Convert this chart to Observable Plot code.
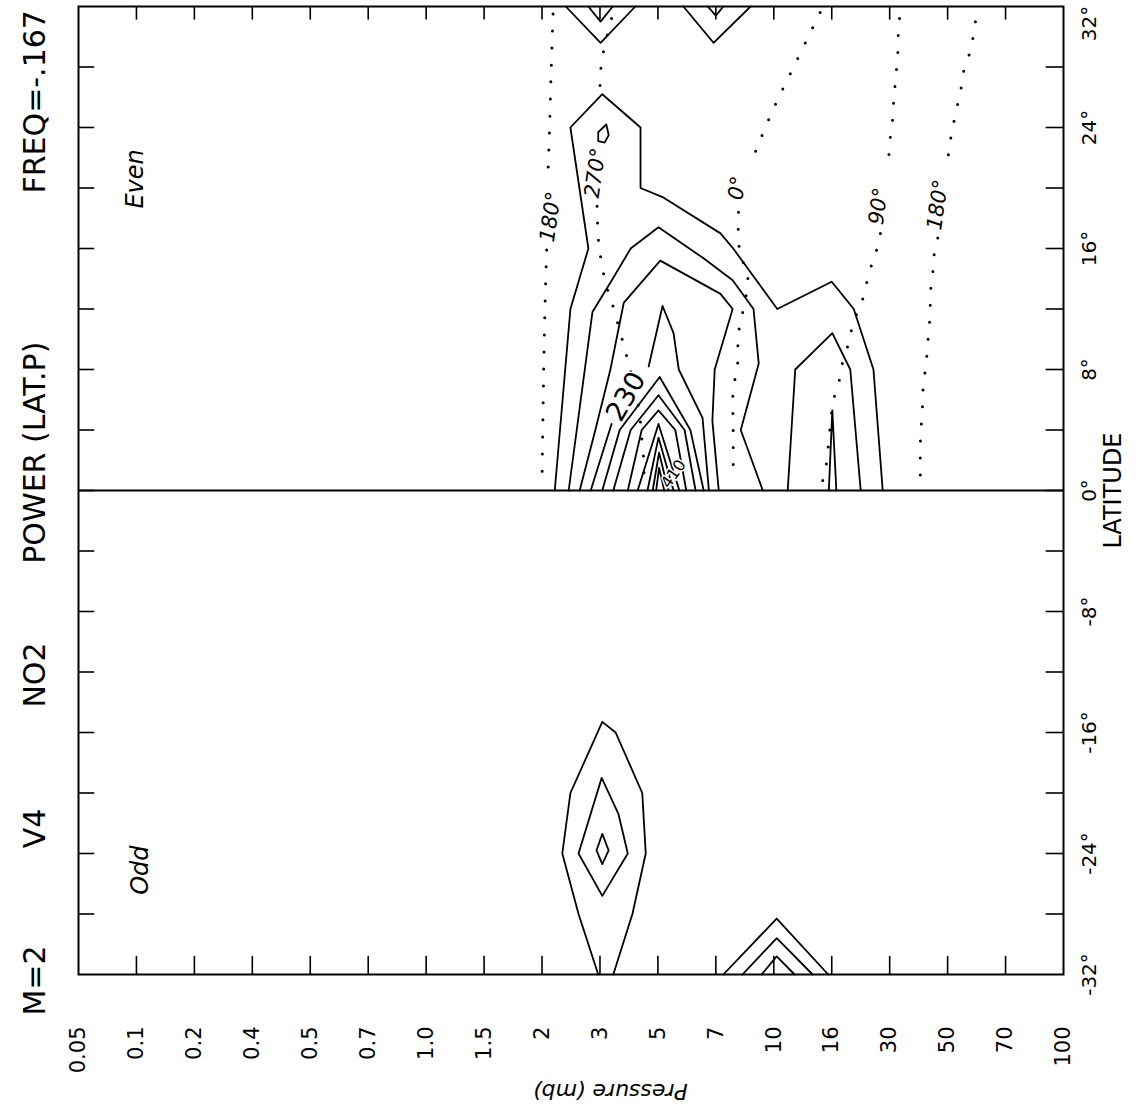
<!DOCTYPE html>
<html><head><meta charset="utf-8">
<script src="https://cdn.jsdelivr.net/npm/d3@7"></script>
<script src="https://cdn.jsdelivr.net/npm/@observablehq/plot@0.6"></script>
<style>html,body{margin:0;padding:0;background:#fff;}</style>
</head><body><div id="chart"></div>
<script>
// Pressure levels (mb), evenly spaced along the x axis (index 0..17)
const pressureLabels = ["0.05","0.1","0.2","0.4","0.5","0.7","1.0","1.5","2","3","5","7","10","16","30","50","70","100"];
const pressureIndex = [0,1,2,3,4,5,6,7,8,9,10,11,12,13,14,15,16,17];
const latMinorTicks = [-28,-24,-20,-16,-12,-8,-4,0,4,8,12,16,20,24,28];
const latLabels = [-32,-24,-16,-8,0,8,16,24];
const latTopLabel = [32];

// Power contours, vertices as [pressure index, latitude]
const evenContours = [
  {id:"c1", pts:[[8.22,0],[8.49,12],[8.8,16],[8.49,24],[9.04,26.2],[9.7,24],[9.7,20],[10.08,19.4],[11.08,17],[11.3,16],[12.06,12],[13.0,13.8],[13.38,12],[13.72,8],[13.88,0]]},
  {id:"c2", pts:[[8.46,0],[8.87,11.8],[9.22,14],[9.53,16],[10.01,17.4],[10.77,15.4],[11.29,13.9],[11.65,12],[11.74,8.4],[11.43,4],[11.81,0]]},
  {id:"c3", pts:[[8.65,0],[8.92,4],[9.18,8],[9.41,12.4],[10.04,15.2],[11.08,13],[11.29,12],[10.98,8],[10.94,4.6],[11.05,0]]},
  {id:"c4a", pts:[[9.84,8.2],[10.08,12.2],[10.27,10.4],[10.36,8],[10.77,4.8],[10.88,0]]},
  {id:"c4b", pts:[[9.2,4.4],[8.84,0]]},
  {id:"c5", pts:[[9.04,0],[9.34,4],[10.03,7.5],[10.56,4],[10.79,0]]},
  {id:"c6", pts:[[9.23,0],[9.53,4],[10.01,6.3],[10.46,4],[10.65,0]]},
  {id:"c7", pts:[[9.48,0],[9.72,4],[10.01,5.3],[10.3,4],[10.49,0]]},
  {id:"c8", pts:[[9.65,0],[10.01,4.4],[10.37,0]]},
  {id:"c9", pts:[[9.82,0],[10.01,3.5],[10.27,0]]},
  {id:"c10", pts:[[9.91,0],[10.02,2.5],[10.18,0]]},
  {id:"c11", pts:[[9.97,0],[10.02,1.5],[10.11,0]]},
  {id:"c12", pts:[[12.24,0],[12.37,8],[13.01,10.4],[13.32,8],[13.5,0]]},
  {id:"c13", pts:[[12.95,0],[13.01,5.3],[13.08,0]]},
  {id:"tear", pts:[[9.11,24.2],[8.97,23.7],[8.97,23.1],[9.08,23.0],[9.15,23.5],[9.11,24.2]]},
  {id:"v1", pts:[[8.41,32],[9.01,29.6],[9.61,32]]},
  {id:"v1i", pts:[[8.8,32],[9.01,31],[9.22,32]]},
  {id:"v2", pts:[[10.44,32],[10.96,29.6],[11.6,32]]},
  {id:"v2i", pts:[[10.86,32],[11.0,31.4],[11.13,32]]}
];
const oddContours = [
  {id:"d1", pts:[[8.97,-32],[8.63,-28],[8.35,-24],[8.49,-20],[9.04,-15.3],[9.27,-16],[9.73,-20],[9.79,-24],[9.56,-28],[9.23,-32]]},
  {id:"d2", pts:[[9.03,-19],[8.63,-24],[9.04,-26.8],[9.48,-24],[9.32,-21.4],[9.03,-19]]},
  {id:"d3", pts:[[9.04,-22.7],[8.94,-23.8],[9.04,-24.7],[9.15,-23.8],[9.04,-22.7]]},
  {id:"t1", pts:[[11.13,-32],[12.05,-28.3],[12.94,-32]]},
  {id:"t2", pts:[[11.46,-32],[12.05,-29.6],[12.67,-32]]},
  {id:"t3", pts:[[11.79,-32],[12.05,-30.8],[12.36,-32]]}
];
// Phase lines (dotted)
const phaseLines = [
  {id:"p180a-a", pts:[[8.19,31.5],[8.16,28],[8.13,24],[8.1,20.6]]},
  {id:"p180a-b", pts:[[8.08,15.9],[8.05,12],[8.02,6],[8.0,0.4]]},
  {id:"p270-a", pts:[[9.2,31.2],[9.03,28.4],[9.0,26.6]]},
  {id:"p270-b", pts:[[8.95,18.8],[8.98,16.3],[9.1,13.7],[9.2,12.5],[9.39,9.9],[9.5,8.3],[9.67,5.4],[9.72,3.5],[9.76,1.6],[9.75,0.4]]},
  {id:"p0-a", pts:[[12.8,31.6],[12.69,30.75],[12.29,27.6],[12.0,25.3],[11.72,22.75],[11.6,21.6]]},
  {id:"p0-b", pts:[[11.39,18.4],[11.39,16.7],[11.43,15.5],[11.55,14.2],[11.46,11.7],[11.39,10.4],[11.37,8.1],[11.3,6.7],[11.3,3.8],[11.3,0.6]]},
  {id:"p90-a", pts:[[14.17,31.2],[14.15,30.3],[14.14,28.9],[14.1,27.1],[14.07,25.8],[14.05,24.5],[14.01,23.3],[13.98,21.8]]},
  {id:"p90-b", pts:[[13.84,17.0],[13.76,15.7],[13.67,14.7],[13.58,13.4],[13.5,12.2],[13.36,11.1],[13.32,10.1],[13.19,8.5],[13.12,7.1],[13.03,5.95],[12.89,1.3],[12.84,0.6]]},
  {id:"p180b-a", pts:[[15.48,31],[15.4,29.2],[15.27,27.6],[15.22,26.3],[15.14,25],[15.08,23.8],[15.02,22.5],[15.0,21.4]]},
  {id:"p180b-b", pts:[[14.83,16.7],[14.76,15.4],[14.74,14.2],[14.7,13],[14.7,11.7],[14.67,10.4],[14.65,9.3],[14.62,8.1],[14.58,7],[14.57,5.9],[14.53,3.1],[14.53,0.6]]}
];
const phaseLabels = [
  {t:"180°", p:8.15, lat:18.1},
  {t:"270°", p:8.92, lat:21},
  {t:"0°", p:11.37, lat:20},
  {t:"90°", p:13.81, lat:18.8},
  {t:"180°", p:14.83, lat:18.9}
];
const contourLabels = [
  {t:"230", p:9.45, lat:6.2, r:-60, s:27},
  {t:"410", p:10.27, lat:1.1, r:-55, s:16}
];
const panelLabels = [
  {t:"Even", p:0.98, lat:20.6},
  {t:"Odd", p:1.07, lat:-25.1}
];
const titleParts = [
  {t:"M=2", lat:-32.4},
  {t:"V4", lat:-22.35},
  {t:"NO2", lat:-12.2},
  {t:"POWER (LAT.P)", lat:2.5},
  {t:"FREQ=-.167", lat:25.7}
];
const titleX = -0.74;

const rows = list => list.flatMap(c => c.pts.map(([p, lat]) => ({id: c.id, p, lat})));
const sans = "'DejaVu Sans',sans-serif";

const chart = Plot.plot({
  width: 1141, height: 1111,
  marginLeft: 78, marginRight: 78, marginTop: 6, marginBottom: 137,
  x: {domain: [0, 17], axis: null},
  y: {domain: [-32, 32], axis: null},
  style: {background: "white", color: "black", overflow: "visible"},
  marks: [
    Plot.frame({stroke: "black", strokeWidth: 2}),
    Plot.ruleY([0], {stroke: "black", strokeWidth: 2}),
    // inward tick marks on all four sides
    Plot.ruleX(pressureIndex.slice(1, -1), {x: d => d, y1: -32, y2: -30.8, stroke: "black", strokeWidth: 1.6}),
    Plot.ruleX(pressureIndex.slice(1, -1), {x: d => d, y1: 32, y2: 31.1, stroke: "black", strokeWidth: 1.6}),
    Plot.ruleY(latMinorTicks, {y: d => d, x1: 0, x2: 0.28, stroke: "black", strokeWidth: 1.6}),
    Plot.ruleY(latMinorTicks, {y: d => d, x1: 17, x2: 16.7, stroke: "black", strokeWidth: 1.6}),
    // contours
    Plot.line(rows(evenContours), {x: "p", y: "lat", z: "id", stroke: "black", strokeWidth: 1.8, curve: "linear"}),
    Plot.line(rows(oddContours), {x: "p", y: "lat", z: "id", stroke: "black", strokeWidth: 1.8, curve: "linear"}),
    // dotted phase lines
    Plot.line(rows(phaseLines), {x: "p", y: "lat", z: "id", stroke: "black", strokeWidth: 3, strokeDasharray: "0 17", strokeLinecap: "round", curve: "catmull-rom"}),
    Plot.text(phaseLabels, {x: "p", y: "lat", text: "t", rotate: -82, fontSize: 21, fontStyle: "italic", fontFamily: sans, fill: "black"}),
    Plot.text(contourLabels, {x: "p", y: "lat", text: "t", rotate: "r", fontSize: "s", fontFamily: sans, fill: "black", stroke: "white", strokeWidth: 3, paintOrder: "stroke"}),
    Plot.text(panelLabels, {x: "p", y: "lat", text: "t", rotate: -90, fontSize: 24, fontStyle: "italic", fontFamily: sans, fill: "black"}),
    // bottom tick labels
    Plot.text(pressureIndex, {x: d => d, y: () => -32, text: d => pressureLabels[d], rotate: -90, dy: 52, textAnchor: "end", fontSize: 21, fontFamily: sans, letterSpacing: "4px", fill: "black"}),
    // right tick labels
    Plot.text(latLabels, {x: () => 17, y: d => d, text: d => d + "°", rotate: -90, dx: 26, fontSize: 20, fontFamily: sans, letterSpacing: "2px", fill: "black"}),
    Plot.text(latTopLabel, {x: () => 17, y: d => d, text: d => d + "°", rotate: -90, dx: 26, dy: 17, fontSize: 20, fontFamily: sans, letterSpacing: "2px", fill: "black"}),
    Plot.text(["LATITUDE"], {x: () => 17, y: () => 0, text: d => d, rotate: -90, dx: 50, fontSize: 24, fontFamily: sans, letterSpacing: "4px", fill: "black"}),
    Plot.text(["Pressure (mb)"], {x: () => 9.18, y: () => -32, text: d => d, rotate: 180, dy: 117, fontSize: 22, fontStyle: "italic", fontFamily: sans, letterSpacing: "2px", fill: "black"}),
    // title along the left edge
    Plot.text(titleParts, {x: () => titleX, y: "lat", text: "t", rotate: -90, fontSize: 30, fontFamily: sans, letterSpacing: "6px", fill: "black"})
  ]
});
document.getElementById("chart").appendChild(chart);
</script>
</body></html>
